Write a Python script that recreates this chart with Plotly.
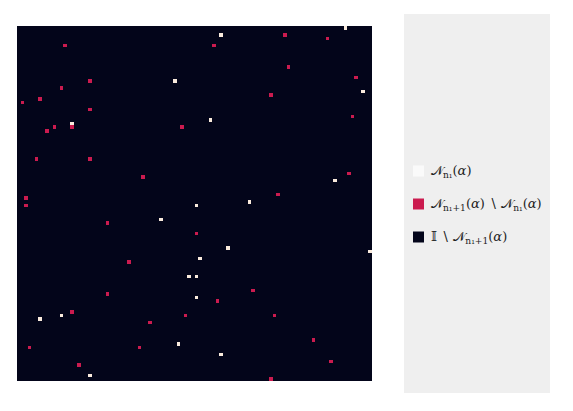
import numpy as np
import plotly.graph_objects as go

N = 100
# cells (row from top, column) in each category
red_rows = [5, 15, 17, 20, 21, 23, 28, 29, 28, 28, 2, 3, 5, 11, 14, 19, 25, 37, 37, 42,
            48, 50, 55, 58, 66, 41, 47, 75, 80, 81, 83, 90, 90, 95, 74, 77, 81, 88, 94, 99]
red_cols = [13, 20, 12, 6, 1, 20, 10, 8, 15, 46, 75, 87, 55, 76, 95, 71, 94, 5, 20, 35,
            2, 2, 25, 50, 31, 93, 73, 25, 15, 47, 37, 3, 34, 17, 66, 56, 72, 83, 88, 71]
white_rows = [15, 27, 2, 0, 18, 26, 54, 50, 65, 43, 49, 62, 63, 70, 70, 76, 81, 82, 89, 98, 92]
white_cols = [44, 15, 57, 92, 97, 54, 40, 50, 51, 89, 65, 59, 99, 48, 50, 50, 12, 6, 45, 20, 57]

labels = ["𝒩<sub>n₁</sub>(<i>α</i>)",
          "𝒩<sub>n₁+1</sub>(<i>α</i>) ∖ 𝒩<sub>n₁</sub>(<i>α</i>)",
          "𝕀 ∖ 𝒩<sub>n₁+1</sub>(<i>α</i>)"]
colors = ["#FAEBDD", "#CB1B4F", "#03051A"]
legend_colors = ["#FAFAFA", "#CB1B4F", "#03051A"]

z = np.zeros((N, N))
for r, c in zip(red_rows, red_cols):
    z[r, c] = 1
for r, c in zip(white_rows, white_cols):
    z[r, c] = 2

cs = [[0, colors[2]], [1/3, colors[2]], [1/3, colors[1]], [2/3, colors[1]],
      [2/3, colors[0]], [1, colors[0]]]

fig = go.Figure(go.Heatmap(z=z, zmin=-0.5, zmax=2.5, colorscale=cs, showscale=False,
                           hoverinfo="skip"))

W, H = 573, 411
L, T, R, B = 17, 26, 201, 30
pw, ph = W - L - R, H - T - B

def px(x):
    return (x - L) / pw

def py(y):
    return (H - B - y) / ph

shapes = [dict(type="rect", xref="paper", yref="paper", x0=px(404), x1=px(550),
               y0=py(393), y1=py(14), fillcolor="#EFEFEF", line=dict(width=0), layer="below")]
annotations = []
for i, (lab, col) in enumerate(zip(labels, legend_colors)):
    yc = 171 + 33 * i
    shapes.append(dict(type="rect", xref="paper", yref="paper", x0=px(413), x1=px(424),
                       y0=py(yc + 5.5), y1=py(yc - 5.5), fillcolor=col, line=dict(width=0)))
    annotations.append(dict(xref="paper", yref="paper", x=px(429), y=py(yc), text=lab,
                            showarrow=False, xanchor="left", yanchor="middle",
                            font=dict(size=13, color="#222222", family="DejaVu Serif")))

fig.update_layout(
    width=W, height=H, margin=dict(l=L, r=R, t=T, b=B),
    paper_bgcolor="white", plot_bgcolor="white",
    xaxis=dict(visible=False, range=[-0.5, N - 0.5]),
    yaxis=dict(visible=False, range=[N - 0.5, -0.5]),
    shapes=shapes, annotations=annotations,
)
fig.write_html("out.html")
